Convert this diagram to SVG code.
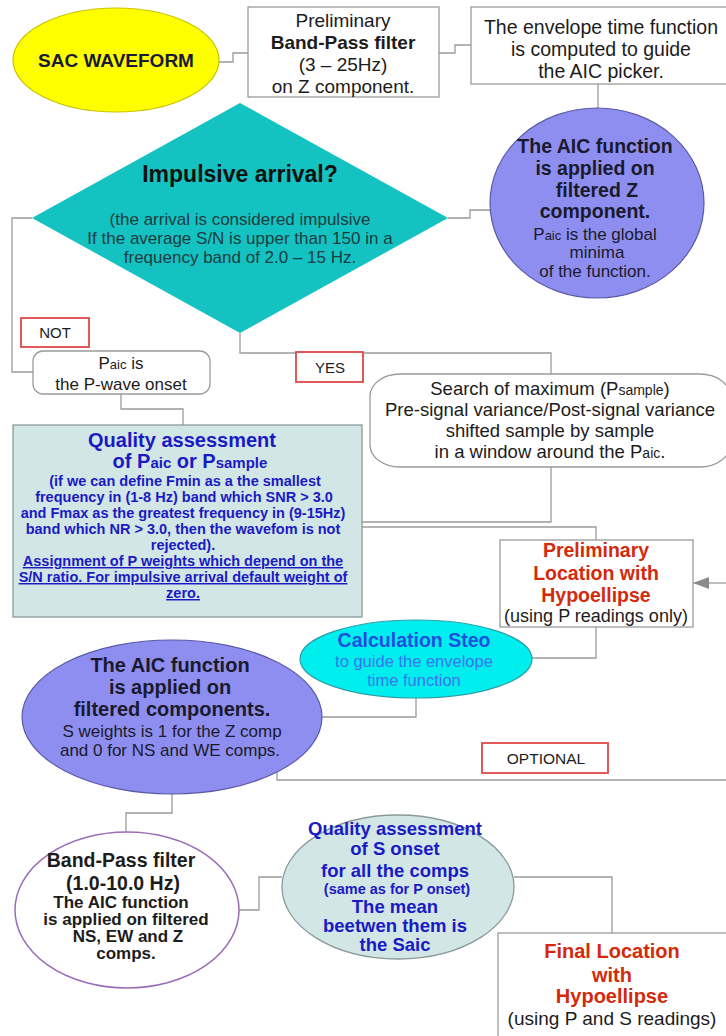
<svg xmlns="http://www.w3.org/2000/svg" width="726" height="1036" viewBox="0 0 726 1036">
<style>
text{font-family:"Liberation Sans",Arial,sans-serif;text-anchor:middle}
.b{font-weight:bold}
.con{fill:none;stroke:#9a9a9a;stroke-width:1.3}
.box{fill:#fff;stroke:#9a9a9a;stroke-width:1.3}
.lab{fill:#fff;stroke:#e04848;stroke-width:1.8}
.dk{fill:#1c1c1c}
.blue{fill:#1a1ac4}
.red{fill:#d42a0c}
</style>
<defs>
<marker id="ah" markerWidth="16" markerHeight="12" refX="15" refY="6" orient="auto" markerUnits="userSpaceOnUse">
<path d="M0,0 L16,6 L0,12 Z" fill="#8a8a8a"/>
</marker>
</defs>
<rect width="726" height="1036" fill="#fff"/>
<g id="connectors">
<path class="con" d="M219,62 H233 V53 H248"/>
<path class="con" d="M439,53 H455 V45 H471"/>
<path class="con" d="M598,84 V109"/>
<path class="con" d="M448,218 H470 V210 H491"/>
<path class="con" d="M32,218 H12 V372 H33"/>
<path class="con" d="M240,333 V353 H551 V374"/>
<path class="con" d="M551,467 V522 H362"/>
<path class="con" d="M121,394 V409 H183 V425"/>
<path class="con" d="M362,527 H596 V540"/>
<path class="con" d="M596,627 V658 H532"/>
<path class="con" d="M416,698 V717 H322"/>
<path class="con" d="M277,772 V780 H726"/>
<path class="con" d="M726,583 H694" marker-end="url(#ah)"/>
<path class="con" d="M172,794 V813 H126 V832"/>
<path class="con" d="M239,910 H259 V877 H282"/>
<path class="con" d="M514,877 H612 V933"/>
</g>
<g id="sac">
<ellipse cx="116" cy="60" rx="103" ry="52" fill="#ffff00" stroke="#c8c400" stroke-width="1.2"/>
<text x="116" y="67" class="b" font-size="19" fill="#1a1a3a">SAC WAVEFORM</text>
</g>
<g id="bandpass1">
<rect class="box" x="248" y="7" width="191" height="90"/>
<text x="343" y="27" font-size="19" class="dk">Preliminary</text>
<text x="343" y="49" font-size="19" class="dk b">Band-Pass filter</text>
<text x="343" y="71" font-size="19" class="dk">(3 – 25Hz)</text>
<text x="343" y="93" font-size="19" class="dk">on Z component.</text>
</g>
<g id="envelope">
<rect class="box" x="471" y="7" width="262" height="77"/>
<text x="601" y="34" font-size="19.5" class="dk">The envelope time function</text>
<text x="601" y="56" font-size="19.5" class="dk">is computed to guide</text>
<text x="601" y="78" font-size="19.5" class="dk">the AIC picker.</text>
</g>
<g id="decision">
<polygon points="240,103 448,218 240,333 32,218" fill="#14c2c2"/>
<text x="240" y="182" class="b" font-size="23" fill="#111">Impulsive arrival?</text>
<text x="240" y="225" font-size="17" fill="#1c3c3e">(the arrival is considered impulsive</text>
<text x="240" y="244" font-size="17" fill="#1c3c3e">If the average S/N is upper than 150 in a</text>
<text x="240" y="263" font-size="17" fill="#1c3c3e">frequency band of 2.0 – 15 Hz.</text>
</g>
<g id="aicz">
<ellipse cx="597" cy="203" rx="107" ry="95" fill="#8e8ef0" stroke="#5a5aa6" stroke-width="1.2"/>
<text x="595" y="153" class="b" font-size="19.5" fill="#1a1a2c">The AIC function</text>
<text x="595" y="175" class="b" font-size="19.5" fill="#1a1a2c">is applied on</text>
<text x="597" y="197" class="b" font-size="19.5" fill="#1a1a2c">filtered Z</text>
<text x="595" y="218" class="b" font-size="19.5" fill="#1a1a2c">component.</text>
<text x="595" y="240" font-size="17" fill="#1a1a2c">P<tspan font-size="13">aic</tspan> is the global</text>
<text x="597" y="258" font-size="17" fill="#1a1a2c">minima</text>
<text x="595" y="277" font-size="17" fill="#1a1a2c">of the function.</text>
</g>
<g id="not">
<rect class="lab" x="21" y="318" width="68" height="29"/>
<text x="55" y="338" font-size="15" class="dk">NOT</text>
</g>
<g id="paic">
<rect class="box" x="33" y="351" width="177" height="43" rx="10"/>
<text x="121" y="369" font-size="17" class="dk">P<tspan font-size="13">aic</tspan> is</text>
<text x="121" y="390" font-size="17" class="dk">the P-wave onset</text>
</g>
<g id="yes">
<rect class="lab" x="296" y="352" width="67" height="30"/>
<text x="330" y="373" font-size="15" class="dk">YES</text>
</g>
<g id="search">
<rect class="box" x="370" y="374" width="360" height="93" rx="30" ry="22"/>
<text x="550" y="395" font-size="18.5" class="dk">Search of maximum (P<tspan font-size="14">sample</tspan>)</text>
<text x="550" y="416" font-size="18.5" class="dk">Pre-signal variance/Post-signal variance</text>
<text x="550" y="437" font-size="18.5" class="dk">shifted sample by sample</text>
<text x="550" y="458" font-size="18.5" class="dk">in a window around the P<tspan font-size="14">aic</tspan>.</text>
</g>
<g id="qualityp">
<rect x="13" y="425" width="349" height="192" fill="#d2e6e6" stroke="#8a9a9a" stroke-width="1.3"/>
<text x="182" y="447" class="b blue" font-size="20">Quality assessment</text>
<text x="190" y="468" class="b blue" font-size="20">of P<tspan font-size="15">aic</tspan> or P<tspan font-size="15">sample</tspan></text>
<text x="185" y="486" class="b blue" font-size="14.5">(if we can define Fmin as a the smallest</text>
<text x="184" y="502" class="b blue" font-size="14.5">frequency  in (1-8 Hz) band  which SNR &gt; 3.0</text>
<text x="183" y="518" class="b blue" font-size="14.5">and Fmax as the greatest frequency in (9-15Hz)</text>
<text x="183" y="534" class="b blue" font-size="14.5">band which  NR &gt; 3.0, then the wavefom is not</text>
<text x="183" y="550" class="b blue" font-size="14.5">rejected).</text>
<text x="183" y="566" class="b blue" font-size="14.5" text-decoration="underline">Assignment of P weights which depend on the</text>
<text x="183" y="582" class="b blue" font-size="14.5" text-decoration="underline">S/N ratio. For impulsive arrival default weight of</text>
<text x="183" y="598" class="b blue" font-size="14.5" text-decoration="underline">zero. </text>
</g>
<g id="prelimloc">
<rect class="box" x="500" y="540" width="193" height="87"/>
<text x="596" y="557" class="b red" font-size="19.5">Preliminary</text>
<text x="596" y="580" class="b red" font-size="19.5">Location with</text>
<text x="596" y="602" class="b red" font-size="19.5">Hypoellipse</text>
<text x="596" y="622" font-size="18" class="dk">(using P readings only)</text>
</g>
<g id="steo">
<ellipse cx="416" cy="659" rx="116" ry="39" fill="#00eeee" stroke="#2aa0a8" stroke-width="1.2"/>
<text x="414" y="647" class="b" font-size="19.5" fill="#1f4fe0">Calculation Steo</text>
<text x="414" y="667" font-size="16.5" fill="#3a74ee">to guide the envelope</text>
<text x="414" y="686" font-size="16.5" fill="#3a74ee">time function</text>
</g>
<g id="aicall">
<ellipse cx="172" cy="717" rx="150" ry="77" fill="#8e8ef0" stroke="#5a5aa6" stroke-width="1.2"/>
<text x="170" y="672" class="b" font-size="20" fill="#1a1a2c">The AIC function</text>
<text x="170" y="694" class="b" font-size="20" fill="#1a1a2c">is applied on</text>
<text x="172" y="716" class="b" font-size="20" fill="#1a1a2c">filtered components.</text>
<text x="172" y="737" font-size="17" fill="#1a1a2c">S weights is 1 for the Z comp</text>
<text x="170" y="756" font-size="17" fill="#1a1a2c">and 0 for NS and WE comps.</text>
</g>
<g id="optional">
<rect class="lab" x="482" y="743" width="126" height="30"/>
<text x="546" y="764" font-size="15.5" class="dk">OPTIONAL</text>
</g>
<g id="bandpass2">
<ellipse cx="127" cy="910" rx="112" ry="78" fill="#fff" stroke="#9a6cb8" stroke-width="1.5"/>
<text x="121" y="867" class="b dk" font-size="19.5">Band-Pass filter</text>
<text x="123" y="890" class="b dk" font-size="19.5">(1.0-10.0 Hz)</text>
<text x="121" y="908" class="b dk" font-size="17">The AIC function</text>
<text x="126" y="925" class="b dk" font-size="17">is applied on filtered</text>
<text x="128" y="942" class="b dk" font-size="17">NS, EW and Z</text>
<text x="126" y="959" class="b dk" font-size="17">comps.</text>
</g>
<g id="qualitys">
<ellipse cx="398" cy="887" rx="116" ry="72" fill="#d2e6e6" stroke="#8a9a9a" stroke-width="1.3"/>
<text x="395" y="835" class="b blue" font-size="18.5">Quality assessment</text>
<text x="395" y="855" class="b blue" font-size="18.5">of S onset</text>
<text x="395" y="877" class="b blue" font-size="18.5">for all the comps</text>
<text x="397" y="894" class="b blue" font-size="14.5">(same as for P onset)</text>
<text x="395" y="913" class="b blue" font-size="18.5">The mean</text>
<text x="395" y="932" class="b blue" font-size="18.5">beetwen them is</text>
<text x="395" y="951" class="b blue" font-size="18.5">the Saic</text>
</g>
<g id="finalloc">
<rect class="box" x="498" y="933" width="240" height="120"/>
<text x="612" y="958" class="b red" font-size="20">Final Location</text>
<text x="612" y="982" class="b red" font-size="20">with</text>
<text x="612" y="1003" class="b red" font-size="20">Hypoellipse</text>
<text x="612" y="1025" font-size="19" class="dk">(using P and S readings)</text>
</g>
</svg>
